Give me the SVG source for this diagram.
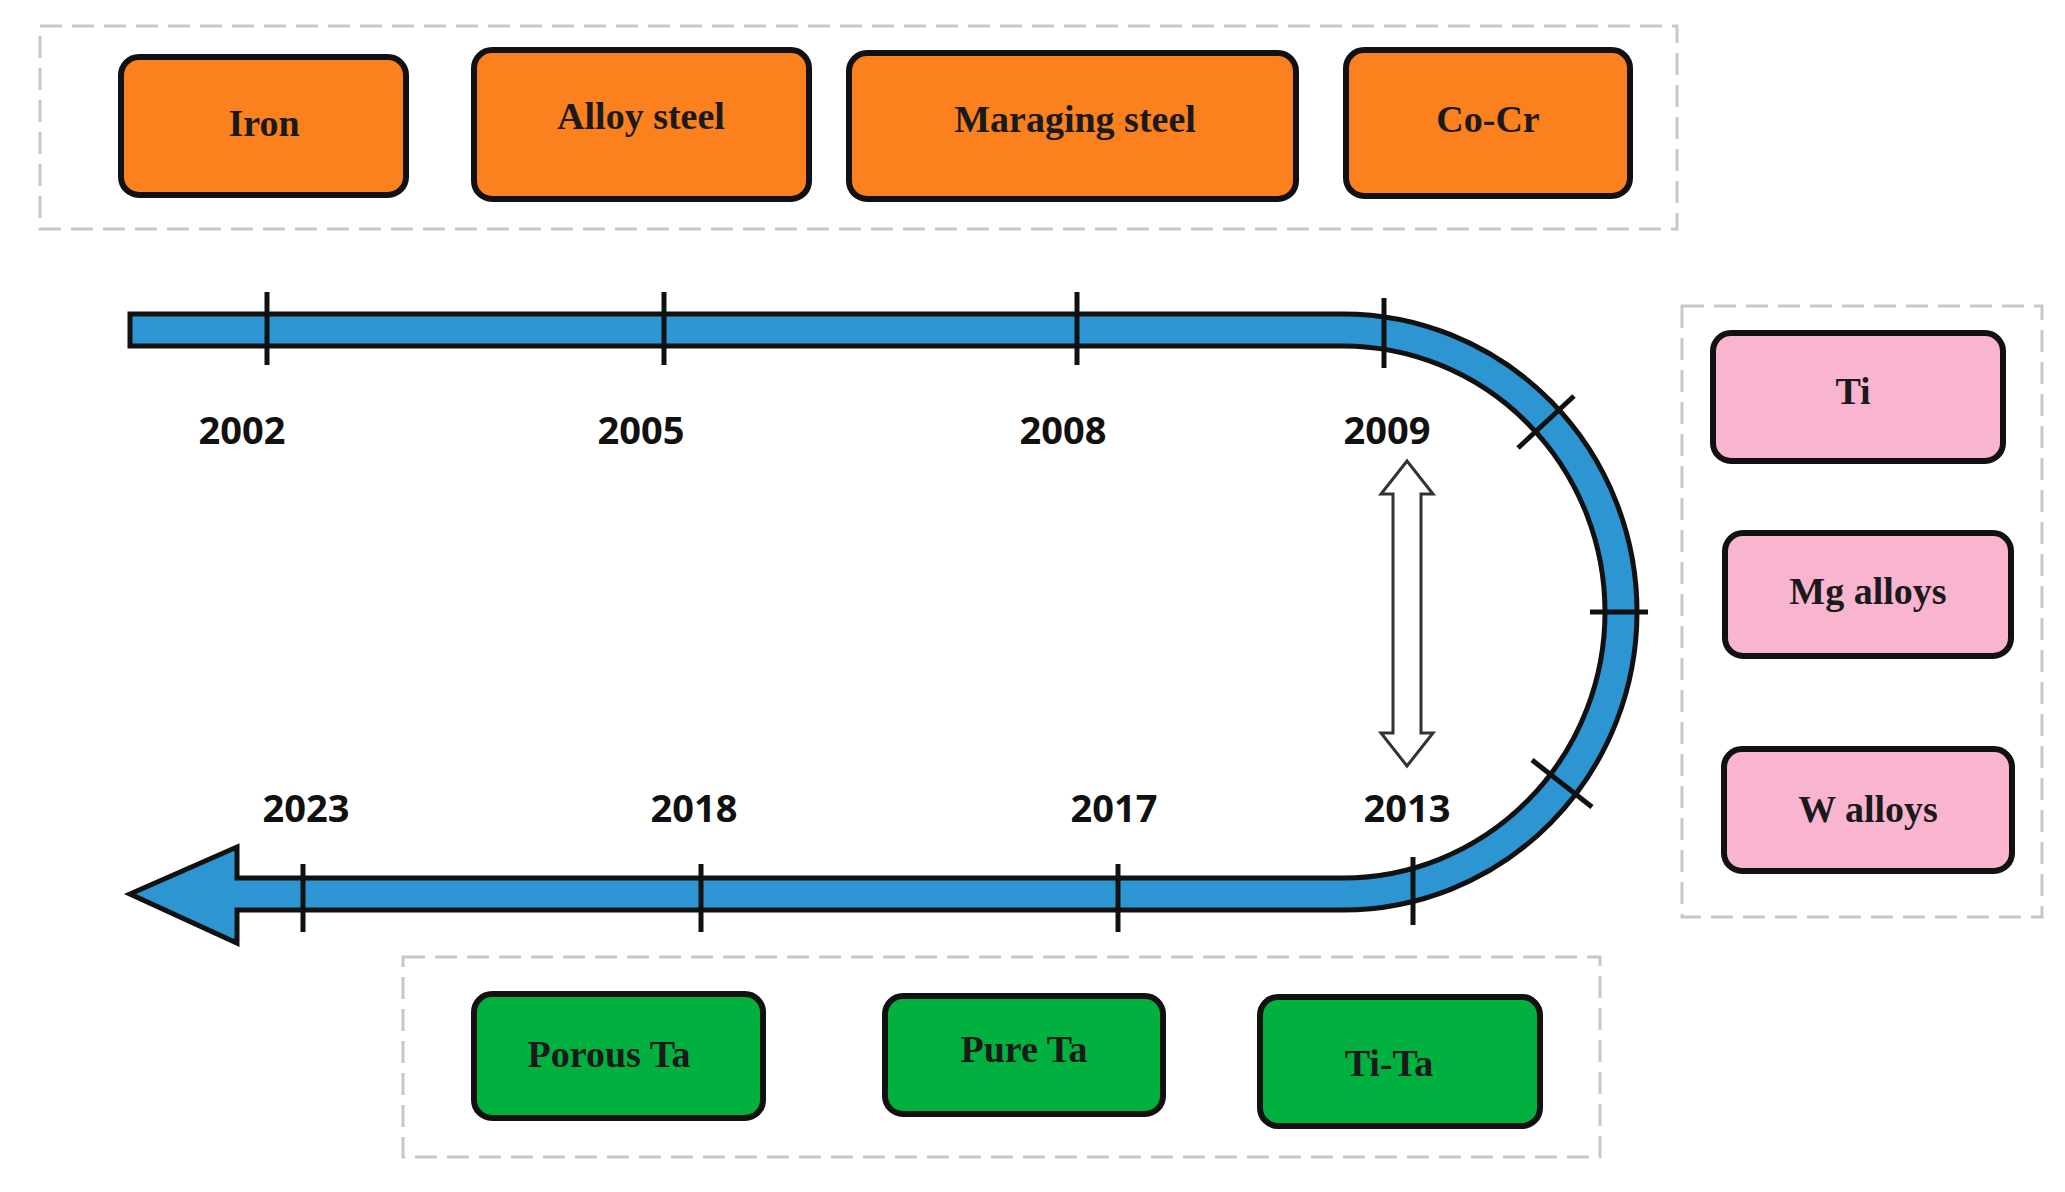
<svg xmlns="http://www.w3.org/2000/svg" width="2065" height="1192" viewBox="0 0 2065 1192">
<style>
.grp{fill:none;stroke:#c8c8c8;stroke-width:3;stroke-dasharray:22,10}
.box{stroke:#111;stroke-width:6}
.o{fill:#fb801e}.p{fill:#f9b4cf}.g{fill:#00b140}
.bt{font-family:"Liberation Serif",serif;font-weight:bold;font-size:38px;text-anchor:middle;fill:#1a1a1a}
.yr{font-family:"Open Sans","DejaVu Sans",sans-serif;font-weight:bold;font-size:38px;text-anchor:middle;fill:#111}
.tk{stroke:#111;stroke-width:5}
</style>
<rect width="2065" height="1192" fill="#fff"/>
<rect class="grp" x="40" y="26" width="1637" height="203"/>
<rect class="grp" x="1682" y="306" width="360" height="611"/>
<rect class="grp" x="403" y="957" width="1197" height="200"/>
<g id="connectors">
<path d="M130,314 H1343 A294,298 0 0 1 1343,910 H237 V943 L130,894 L237,847 V878 H1343 A262,266 0 0 0 1343,346 H130 Z" fill="#2e95d3" stroke="#111" stroke-width="5" stroke-linejoin="miter"/>
<g class="tk">
<line x1="267" y1="292" x2="267" y2="365"/><line x1="664" y1="292" x2="664" y2="365"/><line x1="1077" y1="292" x2="1077" y2="365"/><line x1="1384" y1="298" x2="1384" y2="368"/>
<line x1="303" y1="864" x2="303" y2="932"/><line x1="701" y1="864" x2="701" y2="932"/><line x1="1118" y1="864" x2="1118" y2="932"/><line x1="1413" y1="857" x2="1413" y2="925"/>
<line x1="1518" y1="448" x2="1574" y2="396"/><line x1="1590" y1="612" x2="1648" y2="612"/><line x1="1532" y1="760" x2="1592" y2="807"/>
</g>
<polygon points="1407,461 1433,494 1421,494 1421,733 1433,733 1407,766 1381,733 1393,733 1393,494 1381,494" fill="#fff" stroke="#333" stroke-width="3"/>
</g>
<g id="years">
<text class="yr" x="242" y="444">2002</text><text class="yr" x="641" y="444">2005</text><text class="yr" x="1063" y="444">2008</text><text class="yr" x="1387" y="444">2009</text>
<text class="yr" x="306" y="822">2023</text><text class="yr" x="694" y="822">2018</text><text class="yr" x="1114" y="822">2017</text><text class="yr" x="1407" y="822">2013</text>
</g>
<g id="iron"><rect class="box o" x="121" y="57" width="285" height="138" rx="18"/><text class="bt" x="264" y="136">Iron</text></g>
<g id="alloy"><rect class="box o" x="474" y="50" width="335" height="149" rx="18"/><text class="bt" x="641" y="129">Alloy steel</text></g>
<g id="maraging"><rect class="box o" x="849" y="53" width="447" height="146" rx="18"/><text class="bt" x="1075" y="132">Maraging steel</text></g>
<g id="cocr"><rect class="box o" x="1346" y="50" width="284" height="146" rx="18"/><text class="bt" x="1488" y="132">Co-Cr</text></g>
<g id="ti"><rect class="box p" x="1713" y="333" width="290" height="128" rx="18"/><text class="bt" x="1853" y="404">Ti</text></g>
<g id="mg"><rect class="box p" x="1725" y="533" width="286" height="123" rx="18"/><text class="bt" x="1868" y="604">Mg alloys</text></g>
<g id="w"><rect class="box p" x="1724" y="749" width="288" height="122" rx="18"/><text class="bt" x="1868" y="822">W alloys</text></g>
<g id="porous"><rect class="box g" x="474" y="994" width="289" height="124" rx="18"/><text class="bt" x="609" y="1067">Porous Ta</text></g>
<g id="pure"><rect class="box g" x="885" y="996" width="278" height="118" rx="18"/><text class="bt" x="1024" y="1062">Pure Ta</text></g>
<g id="tita"><rect class="box g" x="1260" y="997" width="280" height="129" rx="18"/><text class="bt" x="1389" y="1076">Ti-Ta</text></g>
</svg>
